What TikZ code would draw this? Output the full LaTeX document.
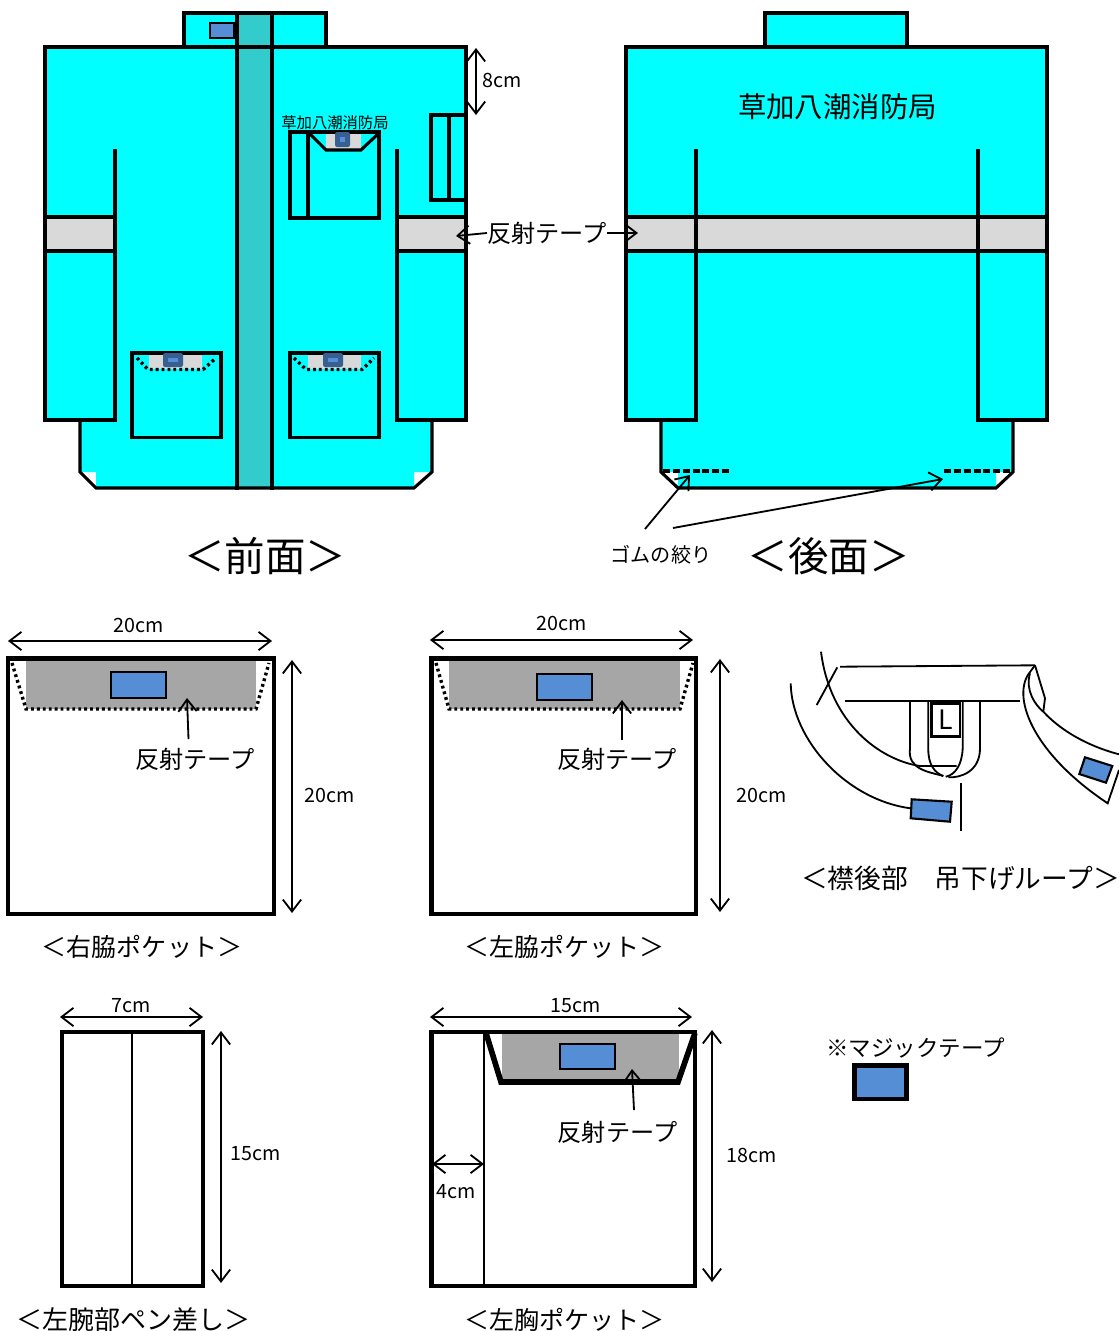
\documentclass[tikz,border=0pt]{standalone}
\usepackage{fontspec}
\setmainfont{Noto Sans CJK JP}
\usetikzlibrary{arrows.meta}
\definecolor{jacket}{HTML}{00FFFF}
\definecolor{placket}{HTML}{33CCCC}
\definecolor{reflect}{HTML}{D9D9D9}
\definecolor{flapgray}{HTML}{A6A6A6}
\definecolor{hookblue}{HTML}{558ED5}
\definecolor{hookdark}{HTML}{376092}
\begin{document}
\begin{tikzpicture}[x=0.025cm,y=-0.025cm,line join=miter,>={Straight Barb[length=8.5pt,width=13pt]},
	garment/.style={line width=2.2pt},
	pocket/.style={line width=3.5pt},
	thinline/.style={line width=1.3pt},
	dotflap/.style={line width=2.4pt,dash pattern=on 2pt off 2.2pt},
	rubber/.style={line width=2.4pt,dash pattern=on 5pt off 2pt},
	tape/.style={fill=reflect,draw=black,line width=2.2pt},
	hook/.style={fill=hookblue,draw=black,line width=1.5pt},
	hookfront/.style={fill=hookdark,rounded corners=1.5pt},
	title/.style={inner sep=0pt,font=\fontsize{28.8}{28.8}\selectfont},
	caption/.style={inner sep=0pt,font=\fontsize{17.8}{17.8}\selectfont},
	reflabel/.style={inner sep=0pt,font=\fontsize{17.2}{17.2}\selectfont},
	dimlabel/.style={inner sep=0pt,font=\fontsize{14}{14}\selectfont}]
	\useasboundingbox (0,0) rectangle (1119,1331);
	% front
	\fill[jacket] (45,47) -- (184,47) -- (184,13) -- (326,13) -- (326,47) -- (466,47) -- (466,420) -- (432,420) -- (432,472) -- (414,472) -- (414,488) -- (96,488) -- (96,472) -- (80,472) -- (80,420) -- (45,420) -- cycle;
	\fill[placket] (237,13) rectangle (272,488);
	\draw[tape] (45,217) rectangle (115,251);
	\draw[tape] (397,217) rectangle (466,251);
	\draw[garment] (184,47) -- (184,13) -- (326,13) -- (326,47);
	\draw[garment] (115,149) -- (115,420) -- (45,420) -- (45,47) -- (466,47) -- (466,420) -- (397,420) -- (397,149);
	\draw[garment] (80,420) -- (80,472) -- (96,488) -- (414,488) -- (432,472) -- (432,420);
	\draw[garment] (237,13) -- (237,490);
	\draw[garment] (272,13) -- (272,490);
	\draw[hook] (210,23) rectangle (234,38);
	% chest pocket, front
	\node[inner sep=0pt,font=\fontsize{10.9}{10.9}\selectfont] (frontname) at (335,123) {草加八潮消防局};
	\fill[reflect] (326,133) rectangle (361,149);
	\draw[garment] (290,132) rectangle (379,218);
	\draw[garment] (308,132) -- (308,218);
	\draw[garment] (309,133) -- (326,150) -- (361,150) -- (379,133);
	\fill[hookdark,rounded corners=1.5pt] (335,132) rectangle (350,147);
	\fill[hookblue] (340,137) rectangle (345,142);
	% pen pocket, front
	\draw[garment] (466,115) -- (431,115) -- (431,200) -- (466,200);
	\draw[garment] (449,115) -- (449,200);
	% waist pockets, front
	\fill[reflect] (149,355) rectangle (202,369);
	\fill[reflect] (308,355) rectangle (361,369);
	\draw[garment] (132,353) rectangle (221,437.5);
	\draw[garment] (290,353) rectangle (379,437.5);
	\draw[dotflap] (137,358) -- (148,369.5) -- (203,369.5) -- (216,358);
	\draw[dotflap] (294,358) -- (306,369.5) -- (362,369.5) -- (374,358);
	\fill[hookfront] (163,353) rectangle (183,367);
	\fill[hookblue] (168,358) rectangle (178,362);
	\fill[hookfront] (323,353) rectangle (343,367);
	\fill[hookblue] (328,358) rectangle (338,362);
	\coordinate (collartop) at (476,48);
	\coordinate (collarbot) at (476,115);
	\draw[thinline,<->] (collartop) -- (collarbot);
	\node[dimlabel] (eight) at (502,80) {8cm};
	% back
	\fill[jacket] (626,47) -- (765,47) -- (765,13) -- (907,13) -- (907,47) -- (1047,47) -- (1047,420) -- (1013,420) -- (1013,472) -- (996,472) -- (996,488) -- (678,488) -- (678,472) -- (661,472) -- (661,420) -- (626,420) -- cycle;
	\draw[tape] (626,217) rectangle (1047,251);
	\draw[garment] (765,47) -- (765,13) -- (907,13) -- (907,47);
	\draw[garment] (696,149) -- (696,420) -- (626,420) -- (626,47) -- (1047,47) -- (1047,420) -- (978,420) -- (978,149);
	\draw[garment] (661,420) -- (661,472) -- (678,488) -- (996,488) -- (1013,472) -- (1013,420);
	\draw[rubber] (663,471) -- (731,471);
	\draw[rubber] (944,471) -- (1012,471);
	\node[inner sep=0pt,font=\fontsize{20.2}{20.2}\selectfont] (backname) at (837.5,106.5) {草加八潮消防局};
	\node[reflabel] (reflmain) at (547,233) {反射テープ};
	\coordinate (reflleft) at (456,236);
	\coordinate (reflright) at (638,233);
	\draw[thinline,->] (reflmain.west) -- (reflleft);
	\draw[thinline,->] (reflmain.east) -- (reflright);
	\node[inner sep=0pt,font=\fontsize{14.3}{14.3}\selectfont] (gomu) at (661,555) {ゴムの絞り};
	\coordinate (gomuone) at (645,529);
	\coordinate (gomutwo) at (673,528);
	\coordinate (gomuleft) at (690,475);
	\coordinate (gomuright) at (943,479);
	\draw[thinline,->] (gomuone) -- (gomuleft);
	\draw[thinline,->] (gomutwo) -- (gomuright);
	\node[title] (frontlabel) at (265,556) {＜前面＞};
	\node[title] (backlabel) at (828.5,556) {＜後面＞};
	% right waist pocket
	\fill[flapgray] (26,660) rectangle (256,709);
	\draw[pocket] (8,658.5) rectangle (274,914);
	\draw[dotflap] (12,663) -- (26,709) -- (256,709) -- (269,663);
	\draw[hook] (111,672) rectangle (166,698);
	\node[reflabel] (reflr) at (195,759) {反射テープ};
	\coordinate (reflrstart) at (188.5,739);
	\coordinate (reflrtip) at (187,698);
	\draw[thinline,->] (reflrstart) -- (reflrtip);
	\coordinate (rwa) at (8,641);
	\coordinate (rwb) at (272,641);
	\coordinate (rha) at (292,660);
	\coordinate (rhb) at (292,913);
	\draw[thinline,<->] (rwa) -- (rwb);
	\draw[thinline,<->] (rha) -- (rhb);
	\node[dimlabel] (rwlabel) at (138.5,625.5) {20cm};
	\node[dimlabel] (rhlabel) at (330,795.5) {20cm};
	\node[caption] (rlabel) at (142,946.5) {＜右脇ポケット＞};
	% left waist pocket
	\fill[flapgray] (449,660) rectangle (680,709);
	\draw[pocket] (431.5,658.5) rectangle (696,914);
	\draw[dotflap] (436,663) -- (449,709) -- (680,709) -- (693,663);
	\draw[hook] (537,674) rectangle (592,700);
	\node[reflabel] (refll) at (617,759) {反射テープ};
	\coordinate (refllstart) at (622,740);
	\coordinate (reflltip) at (622,700);
	\draw[thinline,->] (refllstart) -- (reflltip);
	\coordinate (lwa) at (430,640);
	\coordinate (lwb) at (693,640);
	\coordinate (lha) at (720,659);
	\coordinate (lhb) at (720,912);
	\draw[thinline,<->] (lwa) -- (lwb);
	\draw[thinline,<->] (lha) -- (lhb);
	\node[dimlabel] (lwlabel) at (561.5,623.5) {20cm};
	\node[dimlabel] (lhlabel) at (762,795.5) {20cm};
	\node[caption] (llabel) at (564.5,946.5) {＜左脇ポケット＞};
	% collar loop
	\draw[thinline] (840,666.7) -- (1035,665.3);
	\draw[thinline] (845,701.3) -- (1020,701.3);
	\draw[thinline] (837.3,667.3) -- (816.7,705);
	\draw[thinline] (821,651.7) .. controls (830,723.3) and (880,760) .. (920,766) -- (956.7,766);
	\draw[thinline] (790.7,683.3) .. controls (791.7,740) and (846.7,800) .. (910.7,808.3);
	\draw[thinline] (1035,665.3) -- (1028.3,674.3) .. controls (1012,700) and (1035,755) .. (1107.7,803.3) -- (1119,770);
	\draw[thinline] (1030,673.3) .. controls (1025,690) and (1035,705) .. (1043.3,711.7) .. controls (1065,735) and (1095,748) .. (1119,754.3);
	\draw[thinline] (1035,665.3) -- (1045,698.3) -- (1043.3,711.7);
	\draw[thinline] (910,701.3) -- (910,748.3) .. controls (907,770) and (930,772) .. (943.3,776);
	\draw[thinline] (928.3,701.3) -- (928.3,748.3) .. controls (928,765) and (935,773) .. (943.3,776);
	\draw[thinline] (962.7,701.3) -- (962.7,748.3) .. controls (962,765) and (955,775) .. (945.7,776.7);
	\draw[thinline] (980,701.3) -- (980,748.3) .. controls (980,772) and (960,778) .. (948.3,777.3);
	\draw[line width=1.8pt] (931.7,703.3) rectangle (960,736.7);
	\node[inner sep=0pt,font=\fontsize{19}{19}\selectfont] (loopsize) at (945.7,720) {L};
	\draw[hook] (911.7,799.3) -- (951.7,801.7) -- (950,821.7) -- (910.7,818.3) -- cycle;
	\draw[hook] (1085,757.3) -- (1112.3,766) -- (1106,782.7) -- (1079.3,774) -- cycle;
	\draw[thinline] (960.7,783.3) -- (960.7,831);
	\node[inner sep=0pt,font=\fontsize{19}{19}\selectfont] (looplabel) at (960.5,878) {＜襟後部　吊下げループ＞};
	% pen pocket
	\draw[pocket] (62,1032) rectangle (203,1286);
	\draw[line width=2pt] (132,1032) -- (132,1286);
	\coordinate (pwa) at (60,1017);
	\coordinate (pwb) at (203,1017);
	\coordinate (pha) at (221,1031);
	\coordinate (phb) at (221,1283);
	\draw[thinline,<->] (pwa) -- (pwb);
	\draw[thinline,<->] (pha) -- (phb);
	\node[dimlabel] (pwlabel) at (131,1006) {7cm};
	\node[dimlabel] (phlabel) at (256,1153.5) {15cm};
	\node[inner sep=0pt,font=\fontsize{18.5}{18.5}\selectfont] (plabel) at (133.5,1319.5) {＜左腕部ペン差し＞};
	% chest pocket
	\fill[flapgray] (502,1033) rectangle (679,1082);
	\draw[pocket] (431.7,1032) rectangle (695,1286);
	\draw[line width=2pt] (484,1032) -- (484,1286);
	\draw[line width=4pt] (486,1033) -- (501,1082) -- (678,1082) -- (695,1033);
	\draw[hook] (560,1044) rectangle (615,1069);
	\node[reflabel] (reflc) at (617.5,1132) {反射テープ};
	\coordinate (reflcstart) at (634,1110);
	\coordinate (reflctip) at (632,1069);
	\draw[thinline,->] (reflcstart) -- (reflctip);
	\coordinate (cwa) at (430,1017);
	\coordinate (cwb) at (692,1017);
	\coordinate (cha) at (712,1030);
	\coordinate (chb) at (712,1282);
	\coordinate (cfa) at (432,1164);
	\coordinate (cfb) at (484,1164);
	\draw[thinline,<->] (cwa) -- (cwb);
	\draw[thinline,<->] (cha) -- (chb);
	\draw[thinline,<->] (cfa) -- (cfb);
	\node[dimlabel] (cwlabel) at (575.5,1006) {15cm};
	\node[dimlabel] (chlabel) at (751.5,1155.5) {18cm};
	\node[dimlabel] (cflabel) at (456,1192) {4cm};
	\node[caption] (clabel) at (564.5,1319.5) {＜左胸ポケット＞};
	% legend
	\node[inner sep=0pt,font=\fontsize{16}{16}\selectfont] (legendtext) at (915.5,1047.5) {※マジックテープ};
	\draw[fill=hookblue,line width=3pt] (854.5,1065.5) rectangle (906.5,1099);
\end{tikzpicture}
\end{document}
